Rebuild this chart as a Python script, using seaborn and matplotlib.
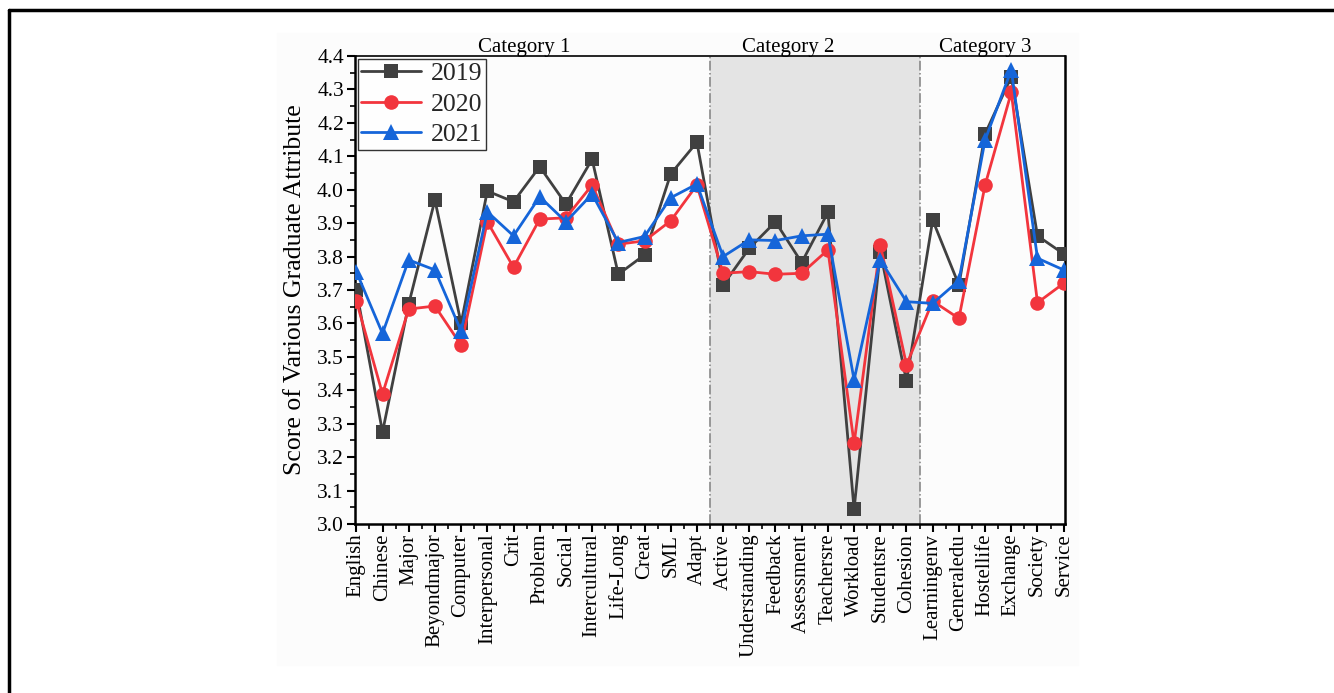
import pandas as pd
import numpy as np
import matplotlib
matplotlib.use("Agg")
import matplotlib.pyplot as plt
import seaborn as sns
from matplotlib.ticker import MultipleLocator
from matplotlib.lines import Line2D

attributes = ["English", "Chinese", "Major", "Beyondmajor", "Computer", "Interpersonal",
              "Crit", "Problem", "Social", "Intercultural", "Life-Long", "Creat", "SML",
              "Adapt", "Active", "Understanding", "Feedback", "Assessment", "Teachersre",
              "Workload", "Studentsre", "Cohesion", "Learningenv", "Generaledu",
              "Hostellife", "Exchange", "Society", "Service"]

score_2019 = [3.70, 3.275, 3.658, 3.969, 3.600, 3.996, 3.964, 4.069, 3.957, 4.091,
              3.747, 3.805, 4.047, 4.142, 3.715, 3.825, 3.904, 3.782, 3.932, 3.044,
              3.815, 3.427, 3.909, 3.715, 4.167, 4.338, 3.862, 3.808]
score_2020 = [3.668, 3.389, 3.643, 3.652, 3.535, 3.904, 3.768, 3.912, 3.916, 4.014,
              3.837, 3.847, 3.907, 4.014, 3.750, 3.755, 3.747, 3.750, 3.820, 3.241,
              3.835, 3.476, 3.667, 3.615, 4.014, 4.291, 3.662, 3.720]
score_2021 = [3.755, 3.570, 3.790, 3.760, 3.577, 3.934, 3.862, 3.979, 3.904, 3.987,
              3.842, 3.860, 3.976, 4.017, 3.800, 3.850, 3.848, 3.862, 3.867, 3.431,
              3.790, 3.665, 3.660, 3.728, 4.149, 4.358, 3.795, 3.760]

years = ["2019", "2020", "2021"]
colors = {"2019": "#404040", "2020": "#f2353d", "2021": "#1565d9"}
markers = {"2019": "s", "2020": "o", "2021": "^"}
msizes = {"2019": 9.5, "2020": 10.5, "2021": 11.5}

# long form table for seaborn
rows = []
for yr, vals in zip(years, [score_2019, score_2020, score_2021]):
    for i, v in enumerate(vals):
        rows.append({"idx": i, "score": v, "year": yr})
df = pd.DataFrame(rows)

sns.set_theme(style="white")
plt.rcParams["font.family"] = ["Liberation Serif", "DejaVu Serif"]

fig = plt.figure(figsize=(13.34, 6.93), dpi=100)
# outer frame (top and left only visible)
fig.add_artist(Line2D([9 / 1334, 1], [1 - 10 / 693, 1 - 10 / 693], color="black", lw=2.5))
fig.add_artist(Line2D([9 / 1334, 9 / 1334], [0, 1 - 10 / 693], color="black", lw=2.5))
fig.add_artist(plt.Rectangle((277 / 1334, 1 - 665 / 693), 801 / 1334, 632 / 693,
                             color="#fcfcfc", zorder=-1))

ax = fig.add_axes([355 / 1334, 1 - 524 / 693, 710 / 1334, 468 / 693])
ax.patch.set_alpha(0)

ax.axvspan(13.5, 21.5, color="#e4e4e4", zorder=0, lw=0)
for xv in (13.5, 21.5):
    ax.axvline(xv, color="#808080", lw=1.1, ls="-.", zorder=1)

for yr in years:
    sub = df[df["year"] == yr]
    sns.lineplot(data=sub, x="idx", y="score", ax=ax, color=colors[yr], lw=2,
                 marker=markers[yr], markersize=msizes[yr], markeredgewidth=0,
                 label=yr, zorder=3)

ax.set_xlim(-0.05, 27.05)
ax.set_ylim(3.0, 4.4)
ax.set_xticks(range(len(attributes)))
ax.set_xticklabels(attributes, rotation=90, fontsize=15, color="black")
ax.xaxis.set_minor_locator(MultipleLocator(0.5))
ax.yaxis.set_major_locator(MultipleLocator(0.1))
ax.yaxis.set_minor_locator(MultipleLocator(0.05))
ax.yaxis.set_major_formatter(matplotlib.ticker.FormatStrFormatter("%.1f"))
ax.tick_params(axis="y", labelsize=15.5, colors="black")
ax.tick_params(which="major", direction="out", length=6, width=1.5, bottom=True, left=True,
               top=False, right=False, color="black", pad=2)
ax.tick_params(which="minor", direction="out", length=3.5, width=1.2, bottom=True, left=True,
               top=False, right=False, color="black")
ax.tick_params(axis="x", which="major", pad=1)
ax.set_xlabel("")
ax.set_ylabel("Score of Various Graduate Attribute", fontsize=18.5, color="black", labelpad=8)

for side in ["left", "bottom", "right"]:
    ax.spines[side].set_color("black")
    ax.spines[side].set_linewidth(1.8)
ax.spines["top"].set_color("black")
ax.spines["top"].set_linewidth(1.2)

trans = matplotlib.transforms.blended_transform_factory(ax.transData, ax.transAxes)
for xpos, txt in [(6.4, "Category 1"), (16.5, "Category 2"), (24.0, "Category 3")]:
    ax.text(xpos, 0.998, txt, transform=trans, ha="center", va="bottom", fontsize=15,
            color="black")

leg = ax.legend(loc="upper left", fontsize=18.5, frameon=True, fancybox=False,
                borderpad=0.15, handlelength=2.3, handletextpad=0.4, labelspacing=0.28,
                borderaxespad=0.1)
leg.get_frame().set_edgecolor("black")
leg.get_frame().set_linewidth(1.0)

fig.savefig("out.png", dpi=100)
